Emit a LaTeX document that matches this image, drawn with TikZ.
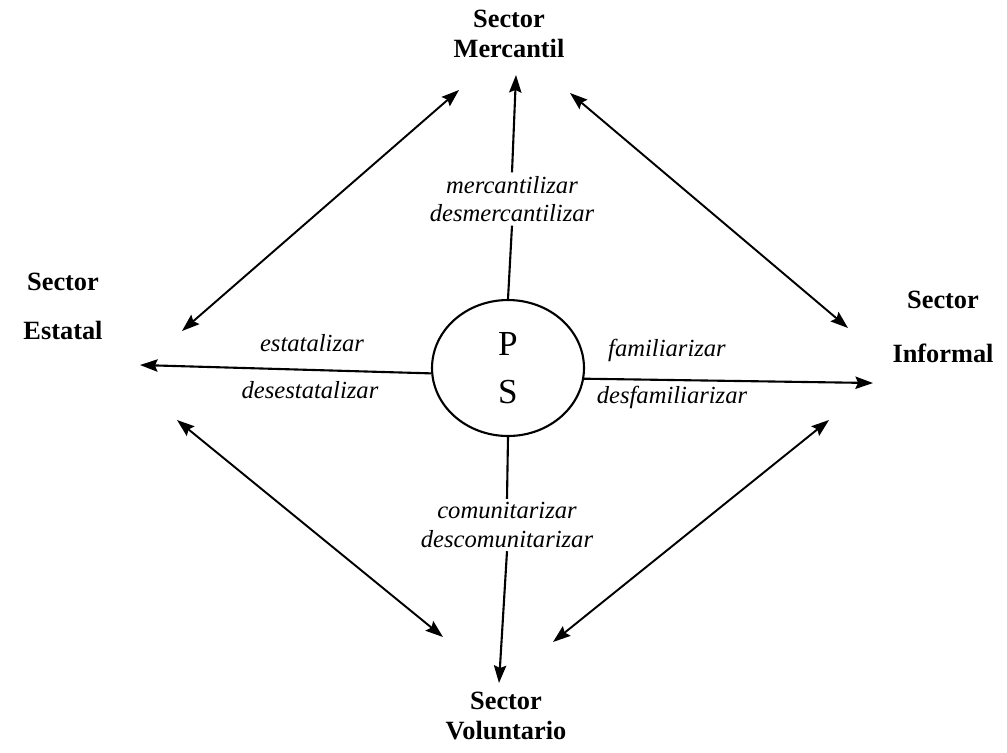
\documentclass[tikz,border=0pt]{standalone}
\usepackage{fontspec}
\setmainfont{Liberation Serif}
\usetikzlibrary{arrows.meta,shapes.geometric}
\begin{document}
\begin{tikzpicture}[x=0.02cm, y=-0.02cm,
    sector/.style={font=\fontsize{15}{17}\selectfont\bfseries, align=center, inner sep=1pt},
    verbo/.style={font=\fontsize{14}{16}\selectfont\itshape, align=center, inner sep=2pt},
    flecha/.style={line width=1.2pt, -{Stealth[length=10pt,width=7pt,inset=1.5pt]}},
    doble/.style={line width=1.1pt, {Stealth[length=10pt,width=7pt,inset=1.5pt]}-{Stealth[length=10pt,width=7pt,inset=1.5pt]}}]
       \useasboundingbox (0, 0) rectangle (1007, 752);

        %%centre
        \node[draw, ellipse, line width=1.2pt, minimum width=3.04cm, minimum height=2.72cm, inner sep=0pt,
              align=center, font=\fontsize{20}{27}\selectfont] (ps) at (508, 368) {P\\S};

        %%sectors
        \node[sector] (merc) at (509, 34) {Sector\\Mercantil};
        \node[sector] (esta) at (63, 306) {Sector\\[11pt]Estatal};
        \node[sector] (info) at (943, 327) {Sector\\[14pt]Informal};
        \node[sector] (volu) at (506, 716) {Sector\\Voluntario};

        %%labels
        \node[verbo] (mlab) at (512, 199) {mercantilizar\\desmercantilizar};
        \node[verbo] (elab1) at (312, 343) {estatalizar};
        \node[verbo] (elab2) at (310, 390) {desestatalizar};
        \node[verbo] (flab1) at (667, 350) {familiarizar};
        \node[verbo] (flab2) at (672, 397) {desfamiliarizar};
        \node[verbo] (clab) at (507, 525) {comunitarizar\\descomunitarizar};

        %%arrow ends
        \coordinate (mtip) at (516, 75);
        \coordinate (etip) at (140, 365);
        \coordinate (itip) at (873, 383);
        \coordinate (vtip) at (499, 683);

        \coordinate (nw1) at (182, 331);
          \coordinate (nw2) at (459, 90);
        \coordinate (ne1) at (570, 93);
          \coordinate (ne2) at (848, 328);
        \coordinate (sw1) at (177, 420);
          \coordinate (sw2) at (443, 637);
        \coordinate (se1) at (553, 642);
          \coordinate (se2) at (829, 420);

        %%spokes
        \draw[line width=1.2pt] (ps.north) to (mlab.south);
          \draw[flecha] (mlab.north) to (mtip);
        \draw[flecha] (ps.184) to (etip);
        \draw[flecha] (ps.-8) to (itip);
        \draw[line width=1.2pt] (ps.south) to (clab.north);
          \draw[flecha] (clab.south) to (vtip);

        %%diagonals
        \draw[doble] (nw1) to (nw2);
        \draw[doble] (ne1) to (ne2);
        \draw[doble] (sw1) to (sw2);
        \draw[doble] (se1) to (se2);

      \end{tikzpicture}
\end{document}
